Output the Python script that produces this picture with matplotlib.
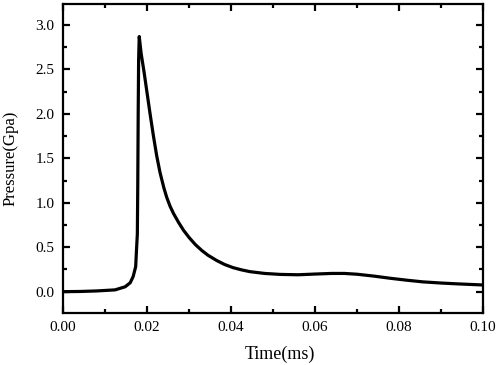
import matplotlib
matplotlib.use("Agg")
from matplotlib import pyplot as plt
from matplotlib.ticker import MultipleLocator, FormatStrFormatter

# pressure history
time_ms = [0.000, 0.004, 0.008, 0.0124, 0.0148, 0.0160, 0.0167, 0.0173, 0.0175,
           0.0177, 0.0178, 0.0179, 0.0180, 0.01815, 0.0186, 0.0193, 0.0200,
           0.0207, 0.0215, 0.0223, 0.0231, 0.0240, 0.0247, 0.0255, 0.0263,
           0.0275, 0.0287, 0.0300, 0.0315, 0.0330, 0.0345, 0.0366, 0.0385,
           0.0405, 0.0425, 0.0445, 0.0480, 0.0517, 0.0560, 0.0600, 0.0640,
           0.0670, 0.0700, 0.0740, 0.0780, 0.0820, 0.0857, 0.0900, 0.0937,
           0.1000]
pressure_gpa = [0.000, 0.002, 0.008, 0.020, 0.055, 0.100, 0.170, 0.280, 0.470,
                0.650, 1.200, 2.000, 2.600, 2.870, 2.680, 2.470, 2.240,
                2.010, 1.760, 1.530, 1.340, 1.170, 1.060, 0.960, 0.880,
                0.780, 0.690, 0.610, 0.530, 0.465, 0.410, 0.350, 0.305,
                0.270, 0.245, 0.225, 0.205, 0.194, 0.190, 0.198, 0.205,
                0.205, 0.196, 0.175, 0.150, 0.128, 0.110, 0.097, 0.088,
                0.075]

plt.rcParams["font.family"] = ["Liberation Serif", "DejaVu Serif"]
plt.rcParams["font.size"] = 11

fig = plt.figure(figsize=(4.98, 3.65), dpi=100)
ax = fig.add_axes([0.1265, 0.1425, 0.8435, 0.8475])
ax.plot(time_ms, pressure_gpa, color="black", linewidth=2.3,
        solid_joinstyle="round", solid_capstyle="round")

ax.set_xlim(0.0, 0.10)
ax.set_ylim(-0.24, 3.24)
ax.xaxis.set_major_locator(MultipleLocator(0.02))
ax.xaxis.set_minor_locator(MultipleLocator(0.01))
ax.yaxis.set_major_locator(MultipleLocator(0.5))
ax.yaxis.set_minor_locator(MultipleLocator(0.25))
ax.xaxis.set_major_formatter(FormatStrFormatter("%.2f"))
ax.yaxis.set_major_formatter(FormatStrFormatter("%.1f"))

for side in ax.spines.values():
    side.set_linewidth(1.6)
ax.tick_params(which="both", direction="in", top=True, right=True, width=1.6)
ax.tick_params(which="major", length=5, pad=6)
ax.tick_params(which="minor", length=3)

ax.set_xlabel("Time(ms)", fontsize=13, labelpad=8)
ax.xaxis.set_label_coords(0.516, -0.105)
ax.set_ylabel("Pressure(Gpa)", fontsize=12, labelpad=12)

fig.savefig("out.png", dpi=100)
